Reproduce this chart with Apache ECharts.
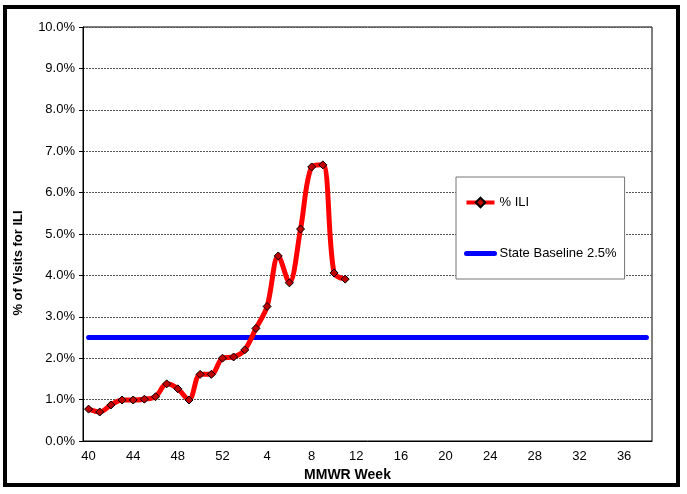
<!DOCTYPE html>
<html>
<head>
<meta charset="utf-8">
<script src="https://cdn.jsdelivr.net/npm/echarts@6/dist/echarts.min.js"></script>
<style>
  html, body { margin: 0; padding: 0; background: #fff; }
  #chart { width: 687px; height: 494px; }
</style>
</head>
<body>
<div id="chart"></div>
<script>
// MMWR weeks 40-52, then 1-38
const weeks = ['40','41','42','43','44','45','46','47','48','49','50','51','52',
  '1','2','3','4','5','6','7','8','9','10','11','12','13','14','15','16','17','18','19',
  '20','21','22','23','24','25','26','27','28','29','30','31','32','33','34','35','36','37','38'];

// % ILI (weeks 40 .. 11)
const iliValues = [0.77, 0.70, 0.87, 0.99, 0.99, 1.01, 1.07, 1.38, 1.26, 0.99, 1.61, 1.61, 2.00,
  2.03, 2.20, 2.72, 3.25, 4.47, 3.82, 5.12, 6.62, 6.67, 4.06, 3.91];

const baselineValue = 2.5;
const baselineValues = weeks.map(() => baselineValue);

const seriesNames = ['% ILI', 'State Baseline 2.5%'];
const fontName = '"Liberation Sans", Arial, sans-serif';

var chart = echarts.init(document.getElementById('chart'));

var option = {
  backgroundColor: '#fff',
  animation: false,
  textStyle: { fontFamily: fontName },
  grid: {
    left: 83, right: 35, top: 27, bottom: 53,
    show: true, borderColor: '#000', borderWidth: 1
  },
  legend: {
    orient: 'vertical',
    left: 456, top: 177,
    padding: [19, 8, 19, 8],
    itemGap: 38,
    itemWidth: 28,
    itemHeight: 12,
    backgroundColor: '#fff',
    borderColor: '#777',
    borderWidth: 1,
    textStyle: { fontSize: 13, color: '#000', fontFamily: fontName },
    data: [
      { name: seriesNames[0], lineStyle: { width: 4 } },
      { name: seriesNames[1], lineStyle: { width: 5 }, itemStyle: { opacity: 0 } }
    ]
  },
  xAxis: {
    type: 'category',
    data: weeks,
    boundaryGap: true,
    name: 'MMWR Week',
    nameLocation: 'middle',
    nameGap: 26,
    nameTextStyle: { fontSize: 14, fontWeight: 'bold', color: '#000', padding: [0, 40, 0, 0], fontFamily: fontName },
    axisLine: { lineStyle: { color: '#000', width: 1 } },
    axisTick: { interval: 0, length: 5, lineStyle: { color: '#000' } },
    axisLabel: { interval: 3, fontSize: 13, color: '#000', margin: 9, fontFamily: fontName },
    splitLine: { show: false }
  },
  yAxis: {
    type: 'value',
    min: 0, max: 10, interval: 1,
    axisLine: { show: true, lineStyle: { color: '#000', width: 1 } },
    axisTick: { show: true, length: 4, lineStyle: { color: '#000' } },
    axisLabel: {
      fontSize: 13, color: '#000', margin: 8, fontFamily: fontName,
      formatter: function (v) { return v.toFixed(1) + '%'; }
    },
    splitLine: { lineStyle: { color: '#555', width: 1, type: [2, 1] } }
  },
  series: [
    {
      name: seriesNames[0],
      type: 'line',
      data: iliValues,
      smooth: 0.33,
      z: 3,
      symbol: 'diamond',
      symbolSize: 8,
      showAllSymbol: true,
      lineStyle: { color: '#ff0000', width: 5 },
      itemStyle: { color: '#c00000', borderColor: '#000', borderWidth: 1 }
    },
    {
      name: seriesNames[1],
      type: 'line',
      data: baselineValues,
      z: 2,
      showSymbol: false,
      symbol: 'none',
      lineStyle: { color: '#0000ff', width: 5, cap: 'round' },
      itemStyle: { color: '#0000ff' }
    }
  ],
  graphic: [
    {
      type: 'text',
      x: 18, y: 263,
      rotation: Math.PI / 2,
      style: {
        text: '% of Visits for ILI',
        x: 0, y: 0,
        align: 'center', verticalAlign: 'middle',
        font: 'bold 13px ' + fontName,
        fill: '#000'
      }
    },
    {
      type: 'rect',
      shape: { x: 5, y: 7, width: 673, height: 478 },
      style: { fill: 'none', stroke: '#000', lineWidth: 4 },
      silent: true
    }
  ]
};

chart.setOption(option);
</script>
</body>
</html>
